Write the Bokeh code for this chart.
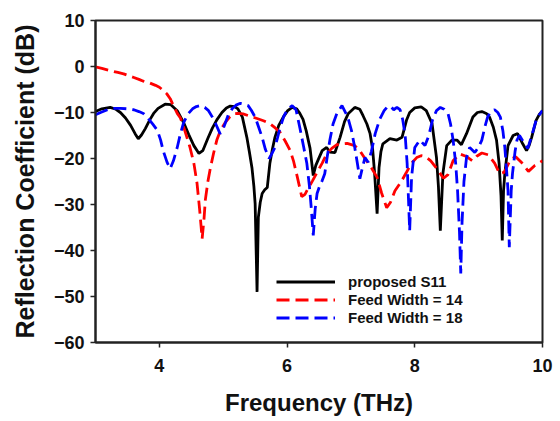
from bokeh.plotting import figure
from bokeh.models import Range1d, FixedTicker, Legend, LegendItem
from bokeh.embed import file_html
from bokeh.resources import INLINE

# ---- data ----
s11_x = [3.00, 3.10, 3.23, 3.32, 3.39, 3.47, 3.55, 3.62, 3.67, 3.72, 3.78, 3.85, 3.91,
         3.98, 4.09, 4.18, 4.28, 4.38, 4.46, 4.54, 4.62, 4.68, 4.76, 4.83, 4.90, 4.98,
         5.05, 5.11, 5.18, 5.23, 5.30, 5.37, 5.41, 5.45, 5.48, 5.50, 5.53, 5.55, 5.58,
         5.61, 5.65, 5.69, 5.73, 5.77, 5.81, 5.87, 5.94, 6.01, 6.08, 6.15, 6.20, 6.25,
         6.30, 6.36, 6.41, 6.45, 6.49, 6.55, 6.62, 6.67, 6.75, 6.83, 6.90, 6.96, 7.06,
         7.14, 7.19, 7.25, 7.30, 7.34, 7.37, 7.41, 7.44, 7.47, 7.50, 7.61, 7.72, 7.80,
         7.87, 7.92, 8.00, 8.10, 8.18, 8.27, 8.34, 8.37, 8.40, 8.44, 8.50, 8.58, 8.66,
         8.73, 8.81, 8.91, 8.98, 9.05, 9.12, 9.17, 9.23, 9.28, 9.32, 9.35, 9.37, 9.39,
         9.41, 9.46, 9.54, 9.61, 9.69, 9.75, 9.79, 9.83, 9.90, 9.95, 10.00]
s11_y = [-9.8, -9.2, -8.9, -9.3, -10.0, -11.2, -12.8, -14.6, -15.7, -14.9, -13.5, -11.6, -10.2,
         -9.1, -8.2, -8.3, -9.6, -12.2, -14.8, -17.2, -18.9, -18.3, -15.6, -13.4, -11.6, -10.0,
         -9.0, -8.6, -8.7, -9.2, -11.0, -15.4, -18.6, -22.0, -26.0, -29.8, -49.0, -32.8, -29.5,
         -27.6, -26.8, -26.3, -21.1, -18.0, -15.4, -12.8, -11.0, -9.6, -8.9, -9.2, -10.2, -11.5,
         -14.0, -17.8, -23.7, -21.5, -20.2, -18.3, -17.6, -18.6, -18.7, -15.4, -12.0, -10.2, -8.9,
         -9.3, -10.7, -12.5, -14.6, -18.0, -23.0, -32.0, -22.0, -18.5, -16.8, -15.7, -16.0, -15.4,
         -11.7, -10.0, -9.0, -8.8, -9.6, -12.4, -19.8, -26.0, -35.7, -23.3, -17.2, -16.0, -16.0,
         -17.0, -14.6, -11.0, -10.0, -9.8, -10.2, -11.0, -13.2, -16.0, -21.0, -28.0, -37.8, -27.0,
         -23.3, -17.2, -15.0, -14.6, -16.8, -18.3, -17.2, -15.4, -11.7, -10.4, -9.6]

fw14_x = [3.00, 3.10, 3.23, 3.35, 3.44, 3.52, 3.60, 3.68, 3.75, 3.85, 3.94, 4.00, 4.06,
          4.12, 4.17, 4.22, 4.28, 4.33, 4.40, 4.48, 4.54, 4.59, 4.63, 4.67, 4.70, 4.72,
          4.76, 4.80, 4.85, 4.90, 4.96, 5.03, 5.10, 5.16, 5.23, 5.31, 5.42, 5.53, 5.63,
          5.73, 5.81, 5.89, 5.97, 6.05, 6.10, 6.16, 6.23, 6.28, 6.33, 6.40, 6.47, 6.55,
          6.62, 6.70, 6.78, 6.86, 6.94, 7.06, 7.14, 7.22, 7.32, 7.41, 7.48, 7.56, 7.62,
          7.69, 7.78, 7.87, 7.95, 8.03, 8.10, 8.17, 8.25, 8.35, 8.45, 8.52, 8.60, 8.70,
          8.80, 8.90, 8.97, 9.05, 9.15, 9.25, 9.33, 9.40, 9.50, 9.58, 9.68, 9.78, 9.88,
          10.00]
fw14_y = [-0.1, -0.4, -0.9, -1.3, -1.6, -2.0, -2.4, -2.8, -3.2, -3.6, -4.1, -4.5, -5.2,
          -6.0, -7.0, -8.5, -10.2, -11.2, -14.0, -17.6, -21.0, -25.4, -31.0, -37.4, -33.0, -29.0,
          -25.0, -22.0, -18.8, -16.0, -13.8, -12.2, -11.0, -10.3, -10.2, -10.3, -10.8, -11.3, -11.8,
          -12.4, -13.3, -14.3, -16.2, -18.3, -20.5, -24.0, -28.3, -27.8, -26.5, -24.8, -23.0, -21.0,
          -19.0, -17.8, -17.0, -16.8, -16.7, -17.2, -18.3, -20.0, -22.0, -24.1, -27.5, -30.7, -29.5,
          -27.0, -25.2, -23.0, -21.0, -19.8, -19.4, -19.6, -20.5, -22.3, -24.3, -23.5, -20.5, -19.0,
          -19.5, -20.5, -19.5, -18.8, -19.2, -21.0, -23.3, -23.0, -20.2, -19.6, -21.0, -22.8, -21.5,
          -20.5]

fw18_x = [3.00, 3.08, 3.19, 3.30, 3.39, 3.50, 3.60, 3.68, 3.75, 3.82, 3.90, 3.97, 4.02,
          4.06, 4.12, 4.17, 4.22, 4.28, 4.33, 4.38, 4.45, 4.52, 4.58, 4.64, 4.71, 4.77,
          4.83, 4.88, 4.95, 5.00, 5.03, 5.08, 5.14, 5.20, 5.27, 5.33, 5.39, 5.44, 5.50,
          5.55, 5.61, 5.66, 5.72, 5.76, 5.81, 5.85, 5.89, 5.95, 6.01, 6.08, 6.14, 6.20,
          6.26, 6.31, 6.35, 6.38, 6.41, 6.44, 6.47, 6.51, 6.55, 6.59, 6.63, 6.67, 6.72,
          6.78, 6.86, 6.95, 7.01, 7.06, 7.10, 7.14, 7.18, 7.22, 7.27, 7.32, 7.38, 7.45,
          7.52, 7.58, 7.63, 7.67, 7.72, 7.77, 7.81, 7.85, 7.88, 7.92, 7.95, 8.00, 8.08,
          8.16, 8.22, 8.28, 8.34, 8.40, 8.46, 8.52, 8.56, 8.60, 8.64, 8.67, 8.70, 8.72,
          8.74, 8.77, 8.81, 8.86, 8.94, 9.00, 9.05, 9.10, 9.14, 9.19, 9.25, 9.30, 9.34,
          9.38, 9.41, 9.44, 9.46, 9.48, 9.51, 9.53, 9.57, 9.60, 9.64, 9.72, 9.77, 9.84,
          9.90, 9.95, 10.00]
fw18_y = [-10.5, -10.0, -9.4, -9.1, -9.1, -9.2, -9.4, -9.8, -10.2, -11.2, -12.6, -13.9, -16.0,
          -18.3, -20.8, -22.2, -20.5, -17.6, -14.6, -12.2, -10.3, -9.2, -8.7, -8.5, -8.9, -9.6,
          -11.0, -12.4, -14.6, -13.5, -12.4, -10.5, -9.2, -8.4, -8.0, -8.2, -8.5, -9.5, -11.0,
          -13.0, -15.4, -18.0, -20.0, -19.0, -17.6, -15.5, -13.3, -10.8, -9.2, -8.5, -9.4, -13.3,
          -17.5, -21.1, -26.0, -31.0, -36.7, -31.0, -27.6, -26.0, -24.8, -23.3, -19.5, -16.0, -12.5,
          -10.2, -8.5, -11.0, -14.0, -17.6, -21.0, -24.4, -22.0, -19.8, -20.8, -18.5, -14.6, -11.5,
          -9.6, -8.6, -8.8, -9.4, -8.9, -9.4, -11.5, -15.0, -21.0, -35.7, -24.0, -17.6, -16.0,
          -17.2, -15.0, -11.5, -9.6, -8.9, -9.3, -10.2, -12.5, -16.0, -21.0, -27.0, -36.0, -45.0,
          -34.0, -25.0, -19.8, -17.6, -18.7, -17.5, -16.0, -13.0, -11.0, -9.8, -9.4, -10.0, -11.0,
          -14.0, -17.6, -23.0, -27.0, -39.3, -27.0, -23.3, -18.5, -16.0, -15.0, -16.8, -17.8, -14.6,
          -11.7, -10.5, -9.6]

x_ticks = [4, 6, 8, 10]
y_ticks = [-60, -50, -40, -30, -20, -10, 0, 10]
series_names = ["proposed S11", "Feed Width = 14", "Feed Width = 18"]

FONT = "Liberation Sans"

p = figure(width=560, height=421, output_backend="svg", toolbar_location=None,
           x_range=Range1d(3, 10), y_range=Range1d(-60, 10),
           min_border_left=95, min_border_right=18, min_border_top=20, min_border_bottom=79)
p.background_fill_color = "white"
p.border_fill_color = "white"
p.outline_line_color = "#222222"
p.outline_line_width = 2
p.xgrid.visible = False
p.ygrid.visible = False

r1 = p.line(s11_x, s11_y, line_color="black", line_width=2.8)
r2 = p.line(fw14_x, fw14_y, line_color="#ff0000", line_width=2.8, line_dash="13 6")
r3 = p.line(fw18_x, fw18_y, line_color="#0000ff", line_width=2.8, line_dash="13 6")

for ax in (p.xaxis[0], p.yaxis[0]):
    ax.axis_line_color = "#222222"
    ax.axis_line_width = 2
    ax.major_tick_line_color = "#222222"
    ax.major_tick_line_width = 1.5
    ax.major_tick_in = 0
    ax.major_tick_out = 5
    ax.minor_tick_line_color = None
    ax.major_label_text_font = FONT
    ax.major_label_text_font_style = "bold"
    ax.major_label_text_font_size = "18px"
    ax.major_label_text_color = "#111111"
    ax.axis_label_text_font = FONT
    ax.axis_label_text_font_style = "bold"
    ax.axis_label_text_color = "#111111"

p.xaxis.ticker = FixedTicker(ticks=x_ticks)
p.yaxis.ticker = FixedTicker(ticks=y_ticks)
p.xaxis.major_label_standoff = 11
p.yaxis.major_label_standoff = 6
p.xaxis.axis_label = "Frequency (THz)"
p.yaxis.axis_label = "Reflection Coefficient (dB)"
p.xaxis.axis_label_text_font_size = "24px"
p.yaxis.axis_label_text_font_size = "25px"
p.xaxis.axis_label_standoff = 14
p.yaxis.axis_label_standoff = 12

legend = Legend(items=[LegendItem(label=series_names[0], renderers=[r1]),
                       LegendItem(label=series_names[1], renderers=[r2]),
                       LegendItem(label=series_names[2], renderers=[r3])],
                location=(181, 16), orientation="vertical")
legend.glyph_width = 59
legend.glyph_height = 17
legend.label_height = 17
legend.spacing = 1
legend.padding = 0
legend.margin = 0
legend.label_standoff = 13
legend.label_text_font = FONT
legend.label_text_font_style = "bold"
legend.label_text_font_size = "15px"
legend.label_text_color = "#111111"
legend.border_line_alpha = 0
legend.background_fill_alpha = 0
p.add_layout(legend)

open("out.html", "w").write(file_html(p, INLINE))
